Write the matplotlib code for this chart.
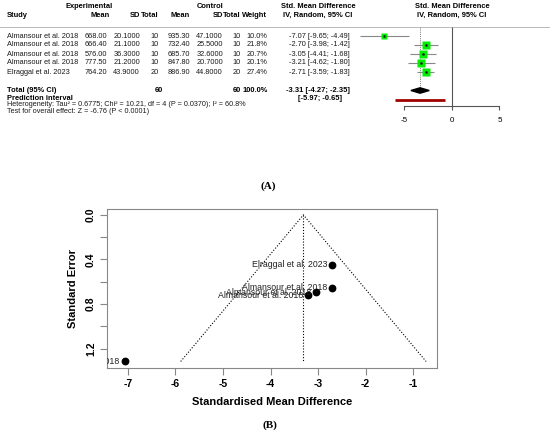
import matplotlib
matplotlib.use("Agg")
import matplotlib.pyplot as plt
import numpy as np

plt.rcParams['font.family'] = ['Liberation Sans', 'DejaVu Sans']

# ---------------- data ----------------
studies = ["Almansour et al. 2018", "Almansour et al. 2018", "Almansour et al. 2018",
           "Almansour et al. 2018", "Elraggal et al. 2023"]
exp_mean = [668.00, 666.40, 576.00, 777.50, 764.20]
exp_sd = [20.1, 21.1, 36.3, 21.2, 43.9]
exp_n = [10, 10, 10, 10, 20]
ctl_mean = [935.30, 732.40, 685.70, 847.80, 886.90]
ctl_sd = [47.1, 25.5, 32.6, 20.7, 44.8]
ctl_n = [10, 10, 10, 10, 20]
weights = [10.0, 21.8, 20.7, 20.1, 27.4]
smd = [-7.07, -2.70, -3.05, -3.21, -2.71]
ci_low = [-9.65, -3.98, -4.41, -4.62, -3.59]
ci_high = [-4.49, -1.42, -1.68, -1.80, -1.83]
pooled = -3.31
pooled_low, pooled_high = -4.27, -2.35
pred_low, pred_high = -5.97, -0.65
total_exp, total_ctl = 60, 60
het_text = "Heterogeneity: Tau\u00b2 = 0.6775; Chi\u00b2 = 10.21, df = 4 (P = 0.0370); I\u00b2 = 60.8%"
test_text = "Test for overall effect: Z = -6.76 (P < 0.0001)"
forest_ticks = [-5, 0, 5]
funnel_xticks = [-7, -6, -5, -4, -3, -2, -1]
funnel_yticks = [0.0, 0.2, 0.4, 0.6, 0.8, 1.0, 1.2]
funnel_ylabels = ["0.0", "", "0.4", "", "0.8", "", "1.2"]

W, H = 550, 434
fig = plt.figure(figsize=(W / 100, H / 100), dpi=100)

def rowpos(py):
    return (py - 36) / 9.0 + 1

top_px, bot_px = 0, 105.7
ylim_rows = (rowpos(bot_px), rowpos(top_px))
rect_y = 1 - bot_px / H
rect_h = (bot_px - top_px) / H

# table axes (x in pixels)
ax_t = fig.add_axes([0, rect_y, 1, rect_h])
ax_t.set_xlim(0, W)
ax_t.set_ylim(*ylim_rows)
ax_t.axis('off')

# forest axes (x in SMD units)
fx0, fx1 = 356.2, 547.2
ax_f = fig.add_axes([fx0 / W, rect_y, (fx1 - fx0) / W, rect_h])
ax_f.set_xlim(-10, 10)
ax_f.set_ylim(*ylim_rows)
ax_f.patch.set_alpha(0)
for s in ['top', 'left', 'right']:
    ax_f.spines[s].set_visible(False)
ax_f.spines['bottom'].set_bounds(forest_ticks[0], forest_ticks[-1])
ax_f.spines['bottom'].set_color('#555555')
ax_f.spines['bottom'].set_linewidth(0.8)
ax_f.set_yticks([])
ax_f.set_xticks(forest_ticks)
ax_f.set_xticklabels([str(t) for t in forest_ticks])
ax_f.tick_params(axis='x', length=3, width=0.8, color='#555555', labelsize=5.8, pad=5)

fs = 5.35
fsh = 5.45
h1 = rowpos(7)
h2 = rowpos(15.5)
rows = np.arange(1, len(studies) + 1)
row_total = rowpos(90.5)
row_pred = rowpos(98.5)
txtc = '#1a1a1a'

# headers
ax_t.text(89, h1, "Experimental", ha='center', va='center', fontsize=fsh, fontweight='bold')
ax_t.text(210, h1, "Control", ha='center', va='center', fontsize=fsh, fontweight='bold')
ax_t.text(318, h1, "Std. Mean Difference", ha='center', va='center', fontsize=fsh, fontweight='bold')
ax_t.text(318, h2, "IV, Random, 95% CI", ha='center', va='center', fontsize=fsh, fontweight='bold')
ax_t.text(452, h1, "Std. Mean Difference", ha='center', va='center', fontsize=fsh, fontweight='bold')
ax_t.text(452, h2, "IV, Random, 95% CI", ha='center', va='center', fontsize=fsh, fontweight='bold')
ax_t.text(7, h2, "Study", ha='left', va='center', fontsize=fsh, fontweight='bold')
cols = [(110, "Mean"), (140, "SD"), (159, "Total"), (190, "Mean"), (223, "SD"),
        (241, "Total"), (267, "Weight")]
for x, lab in cols:
    ax_t.text(x, h2, lab, ha='right', va='center', fontsize=fsh, fontweight='bold')

ax_t.axhline(0, color='#b0b0b0', lw=0.6)

for i, r in enumerate(rows):
    vals = [(107.5, f"{exp_mean[i]:.2f}"), (140, f"{exp_sd[i]:.4f}"), (159, f"{exp_n[i]}"),
            (190, f"{ctl_mean[i]:.2f}"), (223, f"{ctl_sd[i]:.4f}"), (241, f"{ctl_n[i]}"),
            (267, f"{weights[i]:.1f}%"),
            (350, f"{smd[i]:.2f} [{ci_low[i]:.2f}; {ci_high[i]:.2f}]")]
    ax_t.text(7, r, studies[i], ha='left', va='center', fontsize=fs, color=txtc)
    for x, t in vals:
        ax_t.text(x, r, t, ha='right', va='center', fontsize=fs, color=txtc)

ax_t.text(7, row_total, "Total (95% CI)", ha='left', va='center', fontsize=fsh, fontweight='bold')
ax_t.text(163, row_total, f"{total_exp}", ha='right', va='center', fontsize=fsh, fontweight='bold')
ax_t.text(241, row_total, f"{total_ctl}", ha='right', va='center', fontsize=fsh, fontweight='bold')
ax_t.text(268, row_total, f"{sum(weights):.1f}%", ha='right', va='center', fontsize=fsh, fontweight='bold')
ax_t.text(350, row_total, f"{pooled:.2f} [{pooled_low:.2f}; {pooled_high:.2f}]",
          ha='right', va='center', fontsize=fsh, fontweight='bold')
ax_t.text(7, row_pred, "Prediction interval", ha='left', va='center', fontsize=fsh, fontweight='bold')
ax_t.text(342, row_pred, f"[{pred_low:.2f}; {pred_high:.2f}]", ha='right', va='center',
          fontsize=fsh, fontweight='bold')
ax_t.text(7, rowpos(104.8), het_text, ha='left', va='center', fontsize=5.2, color=txtc)
ax_t.text(7, rowpos(111.2), test_text, ha='left', va='center', fontsize=5.2, color=txtc)

# forest graphics
ax_f.vlines(0, 0, ylim_rows[0], color='#555555', lw=0.8)
ax_f.vlines(pooled, 0, row_total - 0.3, color='#777777', lw=0.7, linestyles=(0, (1, 1.2)))
ax_f.hlines(rows, ci_low, ci_high, color='#888888', lw=0.8)
wmax = max(weights)
for i, r in enumerate(rows):
    ms = 6.2 * np.sqrt(weights[i] / wmax)
    ax_f.plot(smd[i], r, marker='s', ms=ms, color='#00ee00', mec='none', zorder=3)
    ax_f.plot(smd[i], r, marker='o', ms=0.9, color='#222222', zorder=4)
dh = 0.3
ax_f.fill([pooled_low, pooled, pooled_high, pooled],
          [row_total, row_total - dh, row_total, row_total + dh], color='black', zorder=3)
ax_f.hlines(row_pred + 0.2, pred_low, pred_high, color='#a00000', lw=2)

fig.text(268 / W, 1 - 186 / H, "(A)", ha='center', va='center', fontsize=8,
         fontweight='bold', family='Liberation Serif')

# ---------------- funnel plot ----------------
se = (np.array(ci_high) - np.array(ci_low)) / (2 * 1.96)
px0, px1, py0, py1 = 107, 437, 209, 368
ax_b = fig.add_axes([px0 / W, 1 - py1 / H, (px1 - px0) / W, (py1 - py0) / H])
ax_b.set_xlim(-7.44, -0.5)
ax_b.set_ylim(1.375, -0.053)
semax = se.max()
ax_b.plot([pooled - 1.96 * semax, pooled, pooled + 1.96 * semax], [semax, 0, semax],
          color='black', lw=0.8, ls=(0, (1, 1.6)))
ax_b.vlines(pooled, 0, semax, color='black', lw=0.8, linestyles=(0, (1, 1.6)))
ax_b.plot(smd, se, 'o', color='black', ms=4.6, zorder=3)
for i in range(len(studies)):
    ax_b.annotate(studies[i], (smd[i], se[i]), xytext=(-3.5, 0), textcoords='offset points',
                  ha='right', va='center', fontsize=6.3, color='#222222', clip_on=True)
for s in ax_b.spines.values():
    s.set_color('#888888')
    s.set_linewidth(0.8)
ax_b.set_xticks(funnel_xticks)
ax_b.set_xticklabels([str(t) for t in funnel_xticks], fontweight='bold')
ax_b.set_yticks(funnel_yticks)
ax_b.set_yticklabels(funnel_ylabels, fontweight='bold', rotation=90, va='center')
ax_b.tick_params(axis='both', length=5, width=0.8, color='#888888', labelsize=7.5, pad=3)
ax_b.set_xlabel("Standardised Mean Difference", fontsize=8.0, fontweight='bold', labelpad=6)
ax_b.set_ylabel("Standard Error", fontsize=8.0, fontweight='bold', labelpad=6)

fig.text(270 / W, 1 - 425 / H, "(B)", ha='center', va='center', fontsize=8,
         fontweight='bold', family='Liberation Serif')

fig.savefig("out.png", dpi=100)
